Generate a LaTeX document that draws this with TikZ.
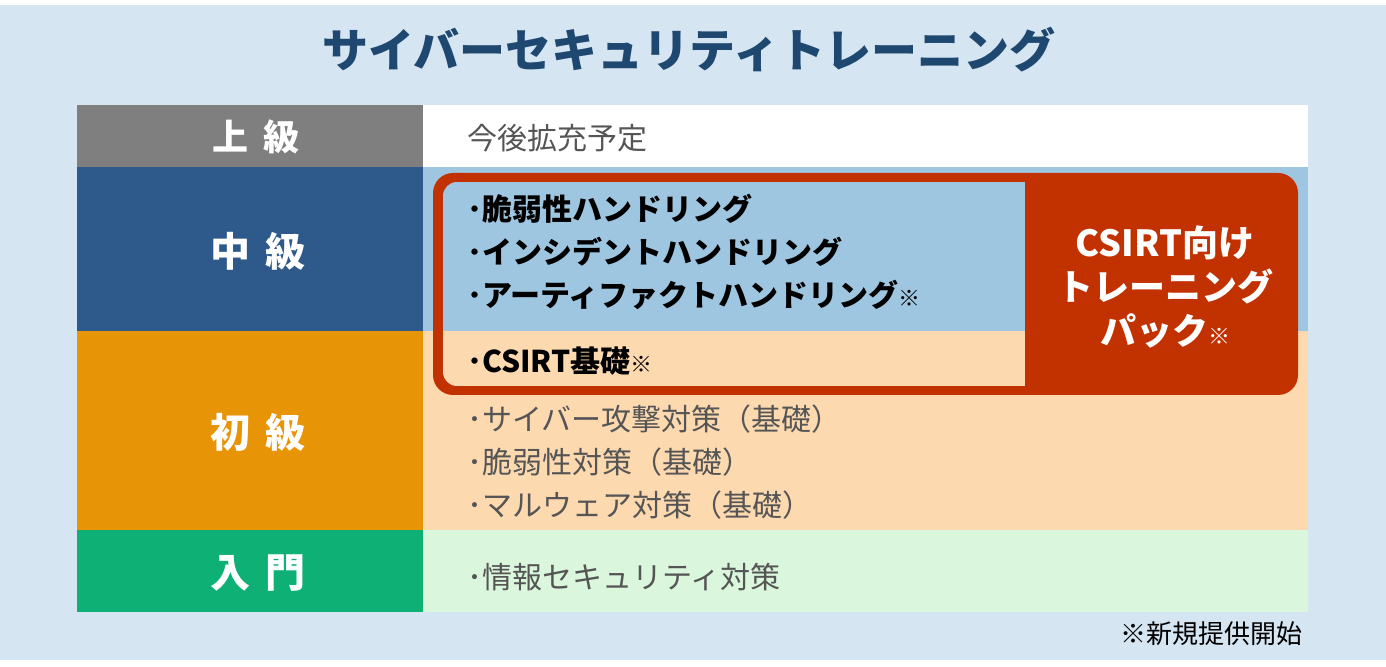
\documentclass[tikz,border=0pt]{standalone}
\usepackage{fontspec}
\setmainfont{Noto Sans CJK JP}

\definecolor{bgblue}{HTML}{D5E5F1}
\definecolor{titleblue}{HTML}{1F4870}
\definecolor{lvgray}{HTML}{7F7F7F}
\definecolor{lvblue}{HTML}{2D5A8A}
\definecolor{lvorange}{HTML}{E89407}
\definecolor{lvgreen}{HTML}{0FB075}
\definecolor{ltblue}{HTML}{9FC6E0}
\definecolor{ltpeach}{HTML}{FDD9B0}
\definecolor{ltgreen}{HTML}{DAF6DC}
\definecolor{packred}{HTML}{C23100}
\definecolor{itemgray}{HTML}{555555}

\newcommand{\kome}{{\fontsize{11}{11}\selectfont ※}}

\begin{document}
\begin{tikzpicture}[
    x=0.5pt,
    y=-0.5pt,
    levelbox/.style={text=white, font=\bfseries\fontsize{20}{22}\selectfont},
    itembox/.style={anchor=west, align=left, text=itemgray, font=\fontsize{15}{21.5}\selectfont},
    packitem/.style={itembox, text=black, font=\bfseries\fontsize{15}{21.5}\selectfont}
]

% Background
\useasboundingbox (0,0) rectangle (1386,667);
\fill[bgblue] (0,5) rectangle (1386,660);

% Title
\node[text=titleblue, font=\bfseries\fontsize{23}{26}\selectfont] (title) at (689,50) {サイバーセキュリティトレーニング};

% Rows: top, bottom, left colour, right colour
\foreach \ya/\yb/\cl/\cr in {
    105/167/lvgray/white,
    167/331/lvblue/ltblue,
    331/530/lvorange/ltpeach,
    530/612/lvgreen/ltgreen} {
    \fill[fill=\cl] (77,\ya) rectangle (423,\yb);
    \fill[fill=\cr] (423,\ya) rectangle (1308,\yb);
}

% Level labels
\node[levelbox, font=\bfseries\fontsize{18}{20}\selectfont] (advanced) at (256,137) {上\hspace{0.4em}級};
\node[levelbox] (middle) at (258,251) {中\hspace{0.4em}級};
\node[levelbox] (basic) at (258,432) {初\hspace{0.4em}級};
\node[levelbox] (intro) at (258,573) {入\hspace{0.4em}門};

% CSIRT pack frame
\fill[packred, rounded corners=10pt] (433,173) rectangle (1298,395);
\begin{scope}
    \clip[rounded corners=7pt] (443,182) rectangle (1060,386);
    \fill[ltblue] (443,182) rectangle (1025,331);
    \fill[ltpeach] (443,331) rectangle (1025,386);
\end{scope}

% Items
\node[itembox] (plan) at (460,138) {今後拡充予定};
\node[packitem] (handling) at (460,252) {･脆弱性ハンドリング\\･インシデントハンドリング\\･アーティファクトハンドリング\kome};
\node[packitem] (csirtbase) at (460,361) {･CSIRT基礎\kome};
\node[itembox] (basicitems) at (460,462) {･サイバー攻撃対策（基礎）\\･脆弱性対策（基礎）\\･マルウェア対策（基礎）};
\node[itembox] (introitem) at (460,577) {･情報セキュリティ対策};
\node[align=center, text=white, font=\bfseries\fontsize{18}{22}\selectfont] (pack) at (1165,287) {CSIRT向け\\トレーニング\\パック\kome};

% Footnote
\node[anchor=east, font=\fontsize{13}{15}\selectfont] (note) at (1310,634) {※新規提供開始};

\end{tikzpicture}
\end{document}
